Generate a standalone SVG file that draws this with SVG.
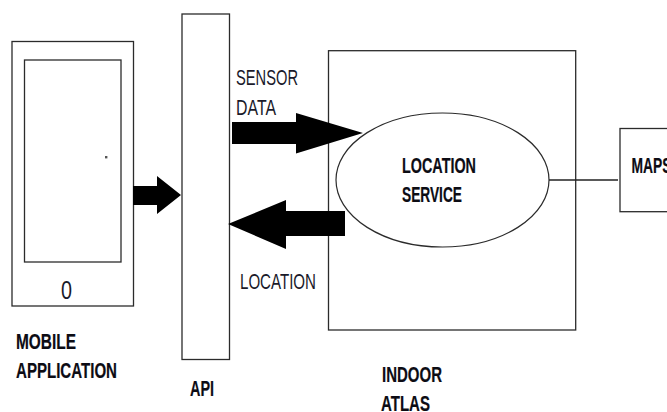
<svg xmlns="http://www.w3.org/2000/svg" width="667" height="412" viewBox="0 0 667 412">
<style>
.box{fill:none;stroke:#2b2b2b;stroke-width:1.3}
.arrow{fill:#000;stroke:none}
.wire{fill:none;stroke:#222;stroke-width:1.3}
text{font-family:"Liberation Sans",Arial,sans-serif;font-size:21.5px;fill:#1a1a2a}
.b{font-weight:bold;fill:#0c0c14;stroke:#0c0c14;stroke-width:.2}
</style>
<rect width="667" height="412" fill="#fff"/>
<g id="mobile-application">
<rect class="box" x="12" y="41.5" width="121.5" height="264.5"/>
<rect class="box" x="24.5" y="60" width="96.5" height="202"/>
<rect x="105" y="156" width="2.4" height="2.4" fill="#555"/>
<text x="61" y="298.5" textLength="11" lengthAdjust="spacingAndGlyphs" style="font-size:25px">0</text>
<text class="b" x="16" y="349" textLength="60" lengthAdjust="spacingAndGlyphs">MOBILE</text>
<text class="b" x="16" y="378" textLength="101" lengthAdjust="spacingAndGlyphs">APPLICATION</text>
</g>
<g id="api">
<rect class="box" x="182" y="14" width="47.5" height="345.5"/>
<text class="b" x="190" y="395.5" textLength="24" lengthAdjust="spacingAndGlyphs">API</text>
</g>
<g id="indoor-atlas">
<rect class="box" x="328.5" y="50.7" width="247.2" height="279.3"/>
<text class="b" x="382" y="382" textLength="60" lengthAdjust="spacingAndGlyphs">INDOOR</text>
<text class="b" x="381" y="411" textLength="49" lengthAdjust="spacingAndGlyphs">ATLAS</text>
</g>
<g id="location-service">
<ellipse cx="442.5" cy="180" rx="106.5" ry="67" fill="#fff" stroke="#2b2b2b" stroke-width="1.2"/>
<text class="b" x="402" y="172.5" textLength="74" lengthAdjust="spacingAndGlyphs">LOCATION</text>
<text class="b" x="402" y="201.5" textLength="60" lengthAdjust="spacingAndGlyphs">SERVICE</text>
</g>
<g id="maps">
<rect class="box" x="620" y="128.5" width="60" height="83.2"/>
<text class="b" x="631.5" y="173" textLength="40" lengthAdjust="spacingAndGlyphs">MAPS</text>
</g>
<g id="connectors">
<path class="arrow" d="M133 186H157V176L181 195L157 214V205H133Z"/>
<path class="arrow" d="M232 122H296V113L363 133L296 153.5V144H232Z"/>
<path class="arrow" d="M345 211H286V200L228 224L286 249V236H345Z"/>
<path class="wire" d="M549 180H618"/>
</g>
<g id="labels">
<text x="236" y="85" textLength="62" lengthAdjust="spacingAndGlyphs">SENSOR</text>
<text x="236" y="114.5" textLength="40" lengthAdjust="spacingAndGlyphs">DATA</text>
<text x="240" y="288.5" textLength="76" lengthAdjust="spacingAndGlyphs">LOCATION</text>
</g>
</svg>
